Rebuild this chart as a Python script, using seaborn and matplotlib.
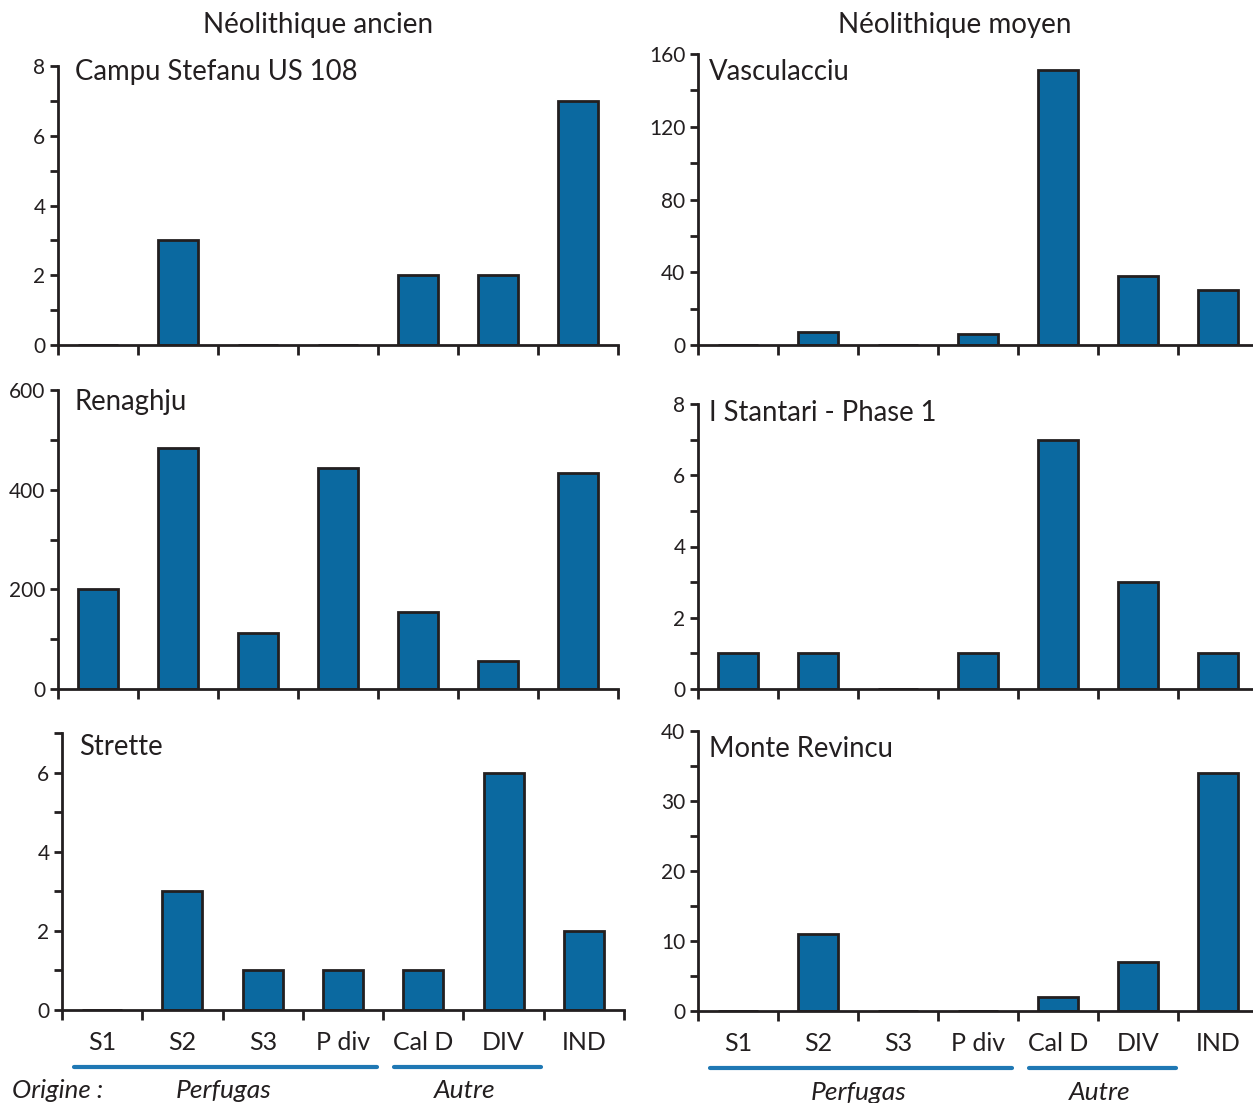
import matplotlib
matplotlib.use("Agg")
import matplotlib.pyplot as plt
import matplotlib.transforms as mtransforms
import seaborn as sns
import pandas as pd
import numpy as np
from matplotlib.ticker import MultipleLocator

# ---------------- data ----------------
categories = ["S1", "S2", "S3", "P div", "Cal D", "DIV", "IND"]
campu_stefanu = [0, 3, 0, 0, 2, 2, 7]
renaghju = [200, 484, 112, 444, 154, 56, 434]
strette = [0, 3, 1, 1, 1, 6, 2]
vasculacciu = [0, 7, 0, 6, 151, 38, 30]
stantari = [1, 1, 0, 1, 7, 3, 1]
monte_revincu = [0, 11, 0, 0, 2, 7, 34]
column_titles = ["Néolithique ancien", "Néolithique moyen"]
origin_label = "Origine :"
origin_groups = ["Perfugas", "Autre"]

# ---------------- style ----------------
sns.set_theme(style="white")
FONT = ["Lato", "DejaVu Sans"]
plt.rcParams["font.family"] = FONT
BAR = "#0B69A0"
EDGE = "#231F20"
LINE = "#1F78B4"
W, H = 1253, 1103

fig = plt.figure(figsize=(W / 100, H / 100), dpi=100)


def rect(x0, x1, ytop, ybot):
    return [x0 / W, (H - ybot) / H, (x1 - x0) / W, (ybot - ytop) / H]


panels = [
    ("Campu Stefanu US 108", campu_stefanu, 8, 2, rect(58, 618, 66, 345), False, 0.978),
    ("Renaghju", renaghju, 600, 200, rect(58, 618, 390, 689), False, 0.96),
    ("Strette", strette, 7, 2, rect(62, 624, 733, 1010), True, 0.95),
    ("Vasculacciu", vasculacciu, 160, 40, rect(698, 1258, 54, 345), False, 0.938),
    ("I Stantari - Phase 1", stantari, 8, 2, rect(698, 1258, 404, 689), False, 0.968),
    ("Monte Revincu", monte_revincu, 40, 10, rect(698, 1258, 731, 1011), True, 0.936),
]

for name, vals, ymax, major, r, bottom, ty in panels:
    ax = fig.add_axes(r)
    df = pd.DataFrame({"cat": categories, "n": vals})
    sns.barplot(data=df, x="cat", y="n", ax=ax, color=BAR, saturation=1,
                width=0.5, edgecolor=EDGE, linewidth=2)
    ax.set_xlim(-0.5, 6.5)
    ax.set_ylim(0, ymax)
    ax.set_xlabel("")
    ax.set_ylabel("")
    for s in ["top", "right"]:
        ax.spines[s].set_visible(False)
    for s in ["left", "bottom"]:
        ax.spines[s].set_color(EDGE)
        ax.spines[s].set_linewidth(2)
    ax.set_xticks(np.arange(-0.5, 7, 1))
    ax.set_xticklabels([])
    ax.tick_params(axis="x", which="major", direction="out", length=7, width=2,
                   color=EDGE, bottom=True)
    if bottom:
        ax.set_xticks(range(len(categories)), minor=True)
        ax.set_xticklabels(categories, minor=True, fontsize=18, color=EDGE)
        ax.tick_params(axis="x", which="minor", length=0, pad=15, bottom=True)
    ax.yaxis.set_major_locator(MultipleLocator(major))
    ax.yaxis.set_minor_locator(MultipleLocator(major / 2))
    ax.tick_params(axis="y", which="both", direction="out", length=6, width=2,
                   color=EDGE, left=True, labelsize=15, labelcolor=EDGE, pad=3)
    ax.set_facecolor("none")
    ax.text(0.03 if r[0] < 0.5 else 0.02, ty, name, transform=ax.transAxes,
            va="center", ha="left", fontsize=19.8, color=EDGE)
    if bottom:
        tr = mtransforms.blended_transform_factory(ax.transData, ax.transAxes)
        ly = -0.205
        ax.plot([-0.35, 3.42], [ly, ly], color=LINE, lw=3, transform=tr, clip_on=False)
        ax.plot([3.64, 5.47], [ly, ly], color=LINE, lw=3, transform=tr, clip_on=False)
        ax.text(1.51, -0.29, origin_groups[0], transform=tr, ha="center", va="center",
                fontsize=19, style="italic", color=EDGE)
        ax.text(4.52, -0.29, origin_groups[1], transform=tr, ha="center", va="center",
                fontsize=19, style="italic", color=EDGE)

fig.text(318 / W, 1 - 25 / H, column_titles[0], ha="center", va="center",
         fontsize=20, color=EDGE)
fig.text(955 / W, 1 - 25 / H, column_titles[1], ha="center", va="center",
         fontsize=20, color=EDGE)
fig.text(12 / W, 1 - 1090 / H, origin_label, ha="left", va="center",
         fontsize=18.6, style="italic", color=EDGE)

fig.savefig("out.png", dpi=100, facecolor="white")
